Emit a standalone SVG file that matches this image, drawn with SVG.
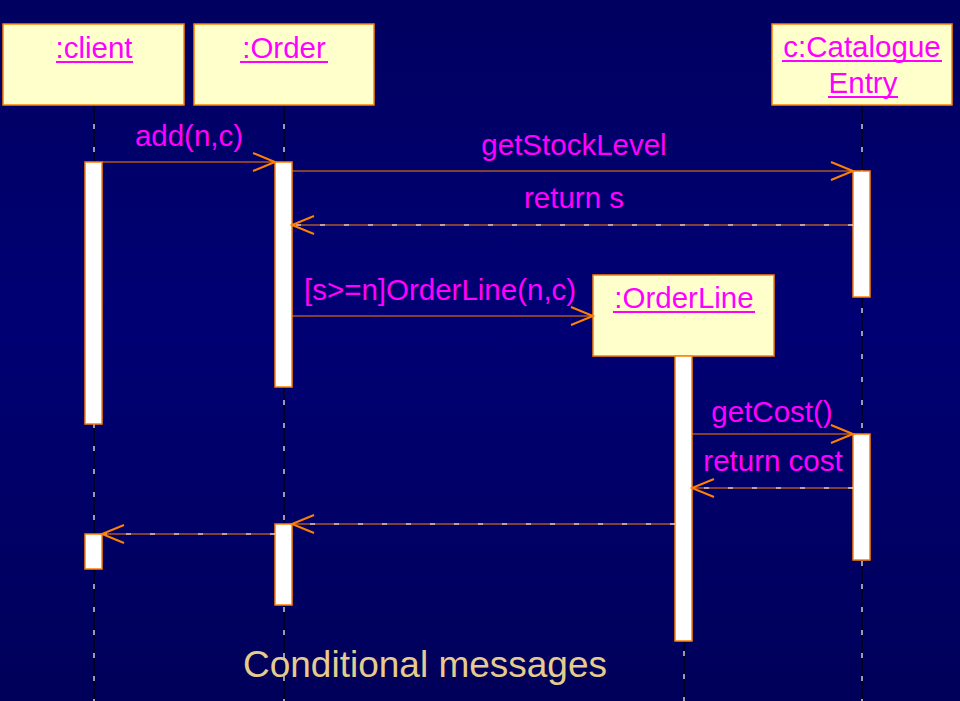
<svg xmlns="http://www.w3.org/2000/svg" width="960" height="701" viewBox="0 0 960 701">
<defs>
<linearGradient id="bg" x1="0" y1="0" x2="0" y2="1">
<stop offset="0" stop-color="#000060"/>
<stop offset="0.45" stop-color="#000074"/>
<stop offset="1" stop-color="#00005a"/>
</linearGradient>
<style>
.box{fill:#ffffcc;stroke:#ff8000;stroke-width:1.5}
.act{fill:#ffffff;stroke:#ff8000;stroke-width:1.5}
.lbl{font-family:"Liberation Sans",Arial,sans-serif;font-size:29.5px;fill:#ff00ff}
.ul{stroke:#ff00ff;stroke-width:2}
.life{stroke:#000000;stroke-width:1.2}
.lifedash{stroke:#ffffff;stroke-width:1.2;stroke-dasharray:5 18}
.msg{stroke:#ff8000;stroke-width:1.2;fill:none}
.ret{stroke:#ffffff;stroke-width:1.2;stroke-dasharray:5 19;fill:none}
.head{stroke:#ff8000;stroke-width:2;fill:none}
.title{font-family:"Liberation Sans",Arial,sans-serif;font-size:37px;fill:#e6cc8c}
</style>
</defs>
<rect x="0" y="0" width="960" height="701" fill="url(#bg)"/>

<g id="lifelines">
<line class="life" x1="94" y1="105" x2="94" y2="701"/>
<line class="lifedash" x1="94" y1="124" x2="94" y2="701"/>
<line class="life" x1="284" y1="105" x2="284" y2="701"/>
<line class="lifedash" x1="284" y1="124" x2="284" y2="701"/>
<line class="life" x1="862" y1="105" x2="862" y2="701"/>
<line class="lifedash" x1="862" y1="124" x2="862" y2="701"/>
<line class="life" x1="684" y1="356" x2="684" y2="701"/>
<line class="lifedash" x1="684" y1="375" x2="684" y2="701"/>
</g>

<g id="client">
<rect class="box" x="3" y="24" width="181" height="81"/>
<text class="lbl" x="94" y="58" text-anchor="middle">:client</text>
<line class="ul" x1="56" y1="62" x2="133" y2="62"/>
<rect class="act" x="85" y="162" width="17" height="262"/>
<rect class="act" x="85" y="534" width="17" height="35"/>
</g>

<g id="order">
<rect class="box" x="194" y="24" width="180" height="81"/>
<text class="lbl" x="284" y="58" text-anchor="middle">:Order</text>
<line class="ul" x1="240" y1="62" x2="328" y2="62"/>
<rect class="act" x="275" y="162" width="17" height="225"/>
<rect class="act" x="275" y="524" width="17" height="81"/>
</g>

<g id="catalogue">
<rect class="box" x="772" y="24" width="180" height="81"/>
<text class="lbl" x="862" y="57" text-anchor="middle">c:Catalogue</text>
<line class="ul" x1="782" y1="61" x2="942" y2="61"/>
<text class="lbl" x="863" y="93" text-anchor="middle">Entry</text>
<line class="ul" x1="828" y1="97" x2="898" y2="97"/>
<rect class="act" x="853" y="171" width="17" height="126"/>
<rect class="act" x="853" y="434" width="17" height="126"/>
</g>

<g id="orderline">
<rect class="box" x="593" y="275" width="181" height="81"/>
<text class="lbl" x="684" y="308" text-anchor="middle">:OrderLine</text>
<line class="ul" x1="613" y1="312" x2="755" y2="312"/>
<rect class="act" x="675" y="356" width="17" height="285"/>
</g>

<g id="connectors">
<line class="msg" x1="102" y1="162" x2="275" y2="162"/>
<polyline class="head" points="253,153 275,162 253,171"/>
<text class="lbl" x="189" y="146" text-anchor="middle">add(n,c)</text>
<line class="msg" x1="292" y1="171" x2="853" y2="171"/>
<polyline class="head" points="831,162 853,171 831,180"/>
<text class="lbl" x="574" y="155" text-anchor="middle">getStockLevel</text>
<line class="msg" x1="853" y1="225" x2="292" y2="225"/>
<line class="ret" x1="853" y1="225" x2="292" y2="225"/>
<polyline class="head" points="314,216 292,225 314,234"/>
<text class="lbl" x="574" y="208" text-anchor="middle">return s</text>
<line class="msg" x1="292" y1="316" x2="593" y2="316"/>
<polyline class="head" points="571,307 593,316 571,325"/>
<text class="lbl" x="304" y="300">[s&gt;=n]OrderLine(n,c)</text>
<line class="msg" x1="692" y1="434" x2="853" y2="434"/>
<polyline class="head" points="831,425 853,434 831,443"/>
<text class="lbl" x="772" y="422" text-anchor="middle">getCost()</text>
<line class="msg" x1="853" y1="488" x2="692" y2="488"/>
<line class="ret" x1="853" y1="488" x2="692" y2="488"/>
<polyline class="head" points="714,479 692,488 714,497"/>
<text class="lbl" x="773" y="471" text-anchor="middle">return cost</text>
<line class="msg" x1="675" y1="524" x2="292" y2="524"/>
<line class="ret" x1="675" y1="524" x2="292" y2="524"/>
<polyline class="head" points="314,515 292,524 314,533"/>
<line class="msg" x1="275" y1="534" x2="102" y2="534"/>
<line class="ret" x1="275" y1="534" x2="102" y2="534"/>
<polyline class="head" points="124,525 102,534 124,543"/>
</g>

<text class="title" x="425" y="677" text-anchor="middle">Conditional messages</text>
</svg>
